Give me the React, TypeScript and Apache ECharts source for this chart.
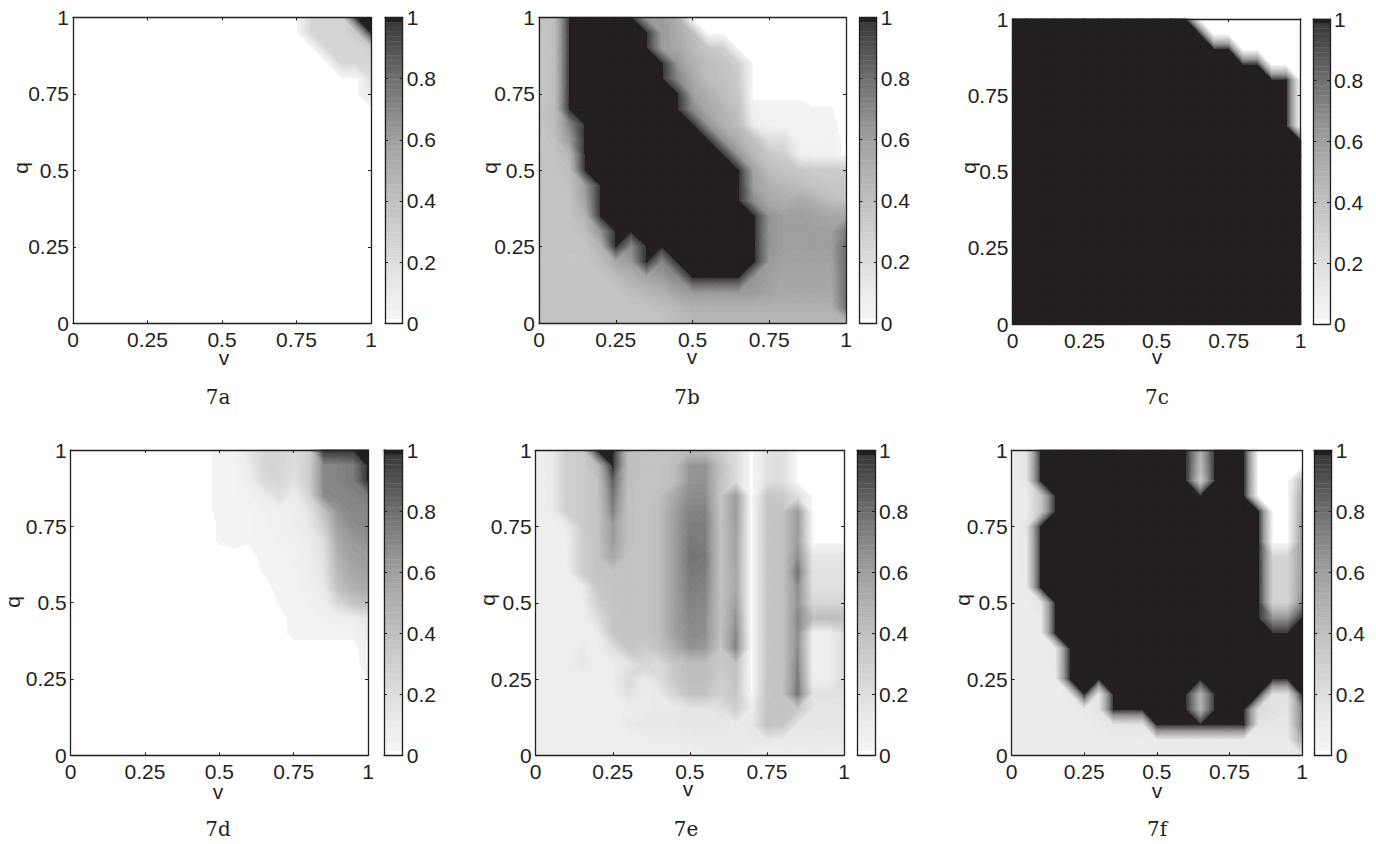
import React, { useEffect, useRef } from "react";
import * as echarts from "echarts";

// Node values on a 21 x 21 lattice. Rows run from q = 1 (first) to q = 0 (last); columns from v = 0 to v = 1.
const gridStep = 0.05;
const captions = ["7a", "7b", "7c", "7d", "7e", "7f"];
const colorLevels = 64;
const grayStops: [number, number][] = [[0.016, 243], [0.1, 236], [0.2, 221], [0.4, 192], [0.6, 160], [0.8, 112], [0.98, 60]];

const padLeft = (r: number[]) => [...Array(21 - r.length).fill(0), ...r];

const panelATails = [
  [0, .25, .25, .25, 1, 1],
  [0, .25, .25, .25, .35, 1],
  [0, 0, .25, .25, .25, .3],
  [0, 0, 0, .25, .25, .25],
  [0, 0, 0, 0, 0, .2],
  [0, 0, 0, 0, 0, .15],
  [0], [0], [0], [0], [0], [0], [0], [0], [0], [0], [0], [0], [0], [0], [0],
];

const panelB = [
  [.38, .4, 1, 1, 1, 1, 1, .62, .62, .5, 0, 0, 0, 0, 0, 0, 0, 0, 0, 0, 0],
  [.38, .4, 1, 1, 1, 1, 1, 1, .62, .55, .42, 0, 0, 0, 0, 0, 0, 0, 0, 0, 0],
  [.38, .4, 1, 1, 1, 1, 1, 1, .62, .55, .45, .35, .3, 0, 0, 0, 0, 0, 0, 0, 0],
  [.38, .4, 1, 1, 1, 1, 1, 1, 1, .65, .5, .42, .38, .3, 0, 0, 0, 0, 0, 0, 0],
  [.38, .4, 1, 1, 1, 1, 1, 1, 1, .72, .55, .42, .4, .33, 0, 0, 0, 0, 0, 0, 0],
  [.38, .4, 1, 1, 1, 1, 1, 1, 1, 1, .6, .5, .42, .35, 0, 0, 0, 0, 0, 0, 0],
  [.38, .42, 1, 1, 1, 1, 1, 1, 1, 1, .7, .55, .48, .38, .04, .04, .04, .04, .02, .02, 0],
  [.38, .42, .72, 1, 1, 1, 1, 1, 1, 1, 1, .65, .5, .42, .1, .04, .04, .04, .03, .03, 0],
  [.38, .4, .62, 1, 1, 1, 1, 1, 1, 1, 1, 1, .65, .5, .4, .2, .2, .04, .04, .05, 0],
  [.38, .38, .48, 1, 1, 1, 1, 1, 1, 1, 1, 1, 1, .65, .45, .35, .3, .08, .06, .05, 0],
  [.38, .38, .42, 1, 1, 1, 1, 1, 1, 1, 1, 1, 1, 1, .58, .42, .38, .35, .33, .33, .32],
  [.38, .38, .4, .62, 1, 1, 1, 1, 1, 1, 1, 1, 1, 1, .6, .5, .45, .42, .38, .35, .35],
  [.38, .38, .38, .58, 1, 1, 1, 1, 1, 1, 1, 1, 1, 1, .68, .55, .52, .55, .5, .42, .4],
  [.38, .38, .38, .48, 1, 1, 1, 1, 1, 1, 1, 1, 1, 1, 1, .65, .6, .6, .58, .55, .55],
  [.38, .38, .38, .42, .65, 1, 1, 1, 1, 1, 1, 1, 1, 1, 1, .65, .6, .6, .6, .6, .75],
  [.38, .38, .38, .38, .48, 1, .7, 1, 1, 1, 1, 1, 1, 1, 1, .65, .6, .6, .6, .6, .8],
  [.37, .37, .37, .37, .42, .55, .62, 1, .7, 1, 1, 1, 1, 1, 1, .62, .58, .58, .58, .58, .8],
  [.37, .37, .37, .37, .37, .42, .5, .58, .62, .7, 1, 1, 1, 1, .65, .6, .55, .55, .55, .55, .8],
  [.37, .37, .37, .37, .37, .37, .42, .46, .5, .58, .62, .62, .62, .62, .62, .58, .55, .55, .55, .55, .8],
  [.38, .38, .38, .38, .38, .38, .38, .38, .42, .45, .5, .5, .5, .5, .5, .5, .5, .5, .5, .5, .78],
  [.38, .38, .38, .38, .38, .38, .38, .38, .38, .42, .45, .45, .45, .45, .45, .45, .45, .45, .45, .45, .45],
];

// Panel c is black (1) up to a given column in each row and white (0) after it.
const panelCBlackCounts = [13, 14, 16, 18, 20, 20, 20, 20, 21, 21, 21, 21, 21, 21, 21, 21, 21, 21, 21, 21, 21];

const panelDTails = [
  [.03, .03, .15, .25, .25, .22, .3, 1, 1, 1, 1],
  [.03, .03, .12, .25, .25, .2, .3, .7, .72, .75, 1],
  [.03, .03, .08, .22, .25, .18, .3, .7, .72, .75, 1],
  [.03, .03, .04, .1, .2, .1, .25, .68, .7, .72, .75],
  [.03, .03, .03, .04, .06, .08, .15, .4, .65, .7, .7],
  [.02, .03, .03, .04, .06, .08, .12, .3, .6, .68, .7],
  [.02, .03, .02, .04, .05, .06, .1, .2, .55, .62, .65],
  [0, 0, 0, .03, .04, .05, .08, .18, .5, .6, .62],
  [0, 0, 0, .02, .03, .04, .07, .16, .45, .55, .6],
  [0, 0, 0, 0, .03, .04, .06, .12, .4, .5, .55],
  [0, 0, 0, 0, .02, .03, .05, .08, .25, .38, .42],
  [0, 0, 0, 0, 0, .03, .04, .05, .08, .1, .15],
  [0, 0, 0, 0, 0, .03, .03, .03, .03, .03, .1],
  [.05], [.04], [.016], [0], [0], [0], [0], [0],
];

const panelE = [
  [.08, .1, .3, .32, 1, 1, .42, .38, .38, .38, .42, .42, .32, .22, 0, .18, .2, 0, 0, 0, 0],
  [.08, .1, .3, .32, .45, 1, .42, .38, .38, .42, .65, .65, .4, .22, 0, .18, .2, 0, 0, 0, 0],
  [.08, .1, .3, .32, .38, .85, .42, .38, .38, .42, .65, .65, .38, .22, 0, .18, .2, 0, 0, 0, 0],
  [.08, .1, .3, .32, .38, .78, .4, .38, .4, .55, .68, .68, .38, .62, 0, .35, .33, .2, 0, 0, 0],
  [.08, .1, .3, .32, .38, .72, .4, .38, .42, .6, .72, .72, .38, .62, 0, .37, .38, .62, 0, 0, 0],
  [.08, .08, .1, .32, .38, .62, .4, .38, .42, .6, .74, .74, .4, .6, 0, .37, .38, .62, 0, 0, 0],
  [.08, .08, .08, .3, .38, .62, .4, .38, .42, .6, .76, .74, .4, .58, 0, .37, .38, .62, 0, 0, 0],
  [.08, .08, .08, .3, .38, .55, .38, .38, .42, .6, .78, .76, .4, .58, 0, .37, .38, .68, .15, .15, .15],
  [.08, .08, .08, .3, .38, .38, .38, .38, .42, .6, .76, .74, .4, .55, 0, .37, .38, .78, .18, .18, .18],
  [.08, .08, .08, .1, .35, .38, .38, .38, .42, .6, .74, .72, .4, .55, 0, .37, .38, .68, .18, .18, .18],
  [.08, .08, .08, .08, .3, .38, .38, .38, .42, .6, .72, .7, .4, .6, 0, .37, .38, .65, .25, .25, .25],
  [.08, .08, .08, .08, .2, .36, .38, .38, .42, .6, .7, .68, .4, .65, 0, .37, .38, .7, .42, .42, .42],
  [.08, .08, .08, .08, .1, .36, .38, .38, .42, .6, .68, .68, .4, .7, 0, .37, .38, .68, .08, .08, .2],
  [.08, .08, .08, .12, .08, .2, .36, .32, .38, .5, .65, .62, .36, .72, 0, .37, .38, .68, .08, .08, .2],
  [.08, .08, .08, .14, .08, .1, .16, .25, .22, .36, .42, .42, .34, .4, 0, .37, .38, .72, .08, .08, .2],
  [.08, .08, .08, .08, .08, .1, .22, .12, .2, .34, .42, .42, .3, .38, 0, .37, .38, .75, .08, .08, .2],
  [.08, .08, .08, .08, .08, .08, .18, .1, .12, .25, .38, .38, .3, .35, .02, .37, .38, .78, .18, .18, .18],
  [.08, .08, .08, .08, .08, .08, .1, .1, .12, .12, .15, .15, .18, .3, .1, .38, .38, .35, .15, .15, .15],
  [.08, .08, .08, .08, .08, .08, .12, .14, .14, .14, .15, .15, .14, .12, .14, .38, .36, .15, .15, .15, .15],
  [.08, .08, .08, .08, .08, .08, .08, .08, .09, .1, .11, .12, .12, .12, .12, .14, .12, .12, .12, .12, .12],
  [.08, .08, .08, .08, .08, .08, .08, .08, .08, .08, .08, .1, .1, .1, .08, .08, .08, .08, .08, .08, .08],
];

const panelF = [
  [.1, .15, 1, 1, 1, 1, 1, 1, 1, 1, 1, 1, 1, .5, 1, 1, 1, 0, 0, 0, 0],
  [.1, .15, 1, 1, 1, 1, 1, 1, 1, 1, 1, 1, 1, .45, 1, 1, 1, 0, 0, 0, 0],
  [.1, .15, 1, 1, 1, 1, 1, 1, 1, 1, 1, 1, 1, .35, 1, 1, 1, 0, 0, 0, .45],
  [.1, .1, .35, 1, 1, 1, 1, 1, 1, 1, 1, 1, 1, 1, 1, 1, 1, 0, 0, 0, .55],
  [.1, .1, .35, 1, 1, 1, 1, 1, 1, 1, 1, 1, 1, 1, 1, 1, 1, 1, 0, 0, .58],
  [.1, .15, 1, 1, 1, 1, 1, 1, 1, 1, 1, 1, 1, 1, 1, 1, 1, 1, 0, 0, .6],
  [.1, .12, 1, 1, 1, 1, 1, 1, 1, 1, 1, 1, 1, 1, 1, 1, 1, 1, 0, 0, .6],
  [.1, .12, 1, 1, 1, 1, 1, 1, 1, 1, 1, 1, 1, 1, 1, 1, 1, 1, .28, .28, .6],
  [.1, .12, 1, 1, 1, 1, 1, 1, 1, 1, 1, 1, 1, 1, 1, 1, 1, 1, .28, .28, .6],
  [.1, .1, 1, 1, 1, 1, 1, 1, 1, 1, 1, 1, 1, 1, 1, 1, 1, 1, .28, .28, .62],
  [.1, .1, .15, 1, 1, 1, 1, 1, 1, 1, 1, 1, 1, 1, 1, 1, 1, 1, .28, .28, .7],
  [.1, .1, .1, 1, 1, 1, 1, 1, 1, 1, 1, 1, 1, 1, 1, 1, 1, 1, .65, .65, 1],
  [.1, .1, .1, 1, 1, 1, 1, 1, 1, 1, 1, 1, 1, 1, 1, 1, 1, 1, 1, 1, 1],
  [.1, .1, .1, .12, 1, 1, 1, 1, 1, 1, 1, 1, 1, 1, 1, 1, 1, 1, 1, 1, 1],
  [.1, .1, .1, .12, 1, 1, 1, 1, 1, 1, 1, 1, 1, 1, 1, 1, 1, 1, 1, 1, 1],
  [.1, .1, .1, .1, 1, 1, 1, 1, 1, 1, 1, 1, 1, 1, 1, 1, 1, 1, 1, 1, 1],
  [.1, .1, .1, .1, .12, 1, .15, 1, 1, 1, 1, 1, 1, .5, 1, 1, 1, 1, .18, .18, 1],
  [.1, .1, .1, .1, .1, .12, .15, 1, 1, 1, 1, 1, 1, .5, 1, 1, 1, .22, .18, .16, .72],
  [.1, .1, .1, .1, .1, .1, .12, .15, .15, .15, 1, 1, 1, 1, 1, 1, 1, .16, .15, .15, .72],
  [.1, .1, .1, .1, .1, .1, .1, .1, .1, .1, .12, .12, .12, .12, .12, .12, .12, .12, .12, .12, .55],
  [.1, .1, .1, .1, .1, .1, .1, .1, .1, .1, .1, .1, .1, .1, .1, .1, .1, .12, .12, .12, .15],
];

const panelA = panelATails.map(padLeft);
const panelC = panelCBlackCounts.map((n) => Array.from({ length: 21 }, (_, i) => (i < n ? 1 : 0)));
const panelD = panelDTails.map(padLeft);
const panels = [panelA, panelB, panelC, panelD, panelE, panelF];

// Layout, in page pixels.
const layouts = [
  { l: 73, r: 371, t: 17.5, b: 323.3, cl: 385, cr: 402.7, v: [224, 357], q: [20, 168], cap: [218, 397] },
  { l: 539, r: 846, t: 17.5, b: 323, cl: 859.5, cr: 876.7, v: [692, 356], q: [489, 168], cap: [687, 397] },
  { l: 1012.5, r: 1300.7, t: 19, b: 324, cl: 1313.3, cr: 1330, v: [1157, 356], q: [968, 168], cap: [1157, 397] },
  { l: 70.7, r: 368, t: 450, b: 755.3, cl: 384, cr: 402.7, v: [218, 791], q: [12, 602], cap: [218, 829] },
  { l: 535.7, r: 844, t: 450.3, b: 755.3, cl: 857.3, cr: 875, v: [688, 788], q: [487, 600], cap: [686, 829] },
  { l: 1011.7, r: 1302, t: 450.3, b: 755.3, cl: 1314.3, cr: 1331.7, v: [1157, 790], q: [962, 600], cap: [1157, 829] },
];

const ink = "#231f20";
const axisInk = ink;
const sans = "Liberation Sans";
const labelSize = 21;

const levelOf = (z: number) => Math.min(colorLevels - 1, Math.max(0, Math.floor(z * colorLevels)));
const levelColor = (l: number) => {
  if (l === 0) return "#ffffff";
  if (l === colorLevels - 1) return ink;
  const z = l / (colorLevels - 1);
  let g = grayStops[grayStops.length - 1][1];
  for (let i = 0; i < grayStops.length - 1; i++) {
    const [a, ga] = grayStops[i];
    const [b, gb] = grayStops[i + 1];
    if (z <= a) { g = ga; break; }
    if (z <= b) { g = ga + ((gb - ga) * (z - a)) / (b - a); break; }
  }
  const h = Math.round(g).toString(16).padStart(2, "0");
  return `#${h}${h}${h}`;
};

// A triangle with values at its corners is a linear ramp, so it is painted with a linear gradient across the colour bands.
function trianglePaint(p: number[][], z: number[]) {
  const order = [0, 1, 2].sort((a, b) => z[a] - z[b]);
  const [i0, i1, i2] = order;
  const lo = z[i0], hi = z[i2];
  const lLo = levelOf(lo), lHi = levelOf(hi);
  if (lLo === lHi) return levelColor(lLo);
  const ax = p[i1][0] - p[i0][0], ay = p[i1][1] - p[i0][1];
  const bx = p[i2][0] - p[i0][0], by = p[i2][1] - p[i0][1];
  const d1 = z[i1] - lo, d2 = hi - lo;
  const det = ax * by - ay * bx;
  const gx = (d1 * by - d2 * ay) / det;
  const gy = (ax * d2 - bx * d1) / det;
  const k = d2 / (gx * gx + gy * gy);
  const colorStops: { offset: number; color: string }[] = [];
  for (let l = lLo; l <= lHi; l++) {
    const c = levelColor(l);
    const s = Math.max(0, (l / colorLevels - lo) / d2);
    const e = l === lHi ? 1 : Math.min(1, ((l + 1) / colorLevels - lo) / d2);
    colorStops.push({ offset: s, color: c }, { offset: e, color: c });
  }
  return {
    type: "linear", global: true,
    x: p[i0][0], y: p[i0][1], x2: p[i0][0] + gx * k, y2: p[i0][1] + gy * k,
    colorStops,
  };
}

const isFlat = (c: number[]) => levelOf(Math.min(c[4], c[5], c[6], c[7])) === levelOf(Math.max(c[4], c[5], c[6], c[7]));

// Flat cells come first, so that the shaded cells lie over their slightly enlarged edges.
function cellsOf(rows: number[][]) {
  const out: number[][] = [];
  for (let r = 0; r < rows.length - 1; r++) {
    for (let c = 0; c < 20; c++) {
      const tl = rows[r][c], tr = rows[r][c + 1], bl = rows[r + 1][c], br = rows[r + 1][c + 1];
      const q1 = (20 - r) * gridStep, q0 = (19 - r) * gridStep;
      out.push([c * gridStep, q0, (c + 1) * gridStep, q1, bl, br, tl, tr]);
    }
  }
  return [...out.filter(isFlat), ...out.filter((c) => !isFlat(c))];
}

function renderCell(_: any, api: any) {
  const v = (i: number) => api.value(i) as number;
  const [z00, z10, z01, z11] = [v(4), v(5), v(6), v(7)];
  if (Math.max(z00, z10, z01, z11) < 1 / colorLevels) return null;
  const p00 = api.coord([v(0), v(1)]), p10 = api.coord([v(2), v(1)]);
  const p01 = api.coord([v(0), v(3)]), p11 = api.coord([v(2), v(3)]);
  if (levelOf(Math.min(z00, z10, z01, z11)) === levelOf(Math.max(z00, z10, z01, z11))) {
    const pad = 0.6;
    return {
      type: "rect",
      shape: { x: p00[0] - pad, y: p01[1] - pad, width: p10[0] - p00[0] + 2 * pad, height: p00[1] - p01[1] + 2 * pad },
      style: { fill: levelColor(levelOf(z00)) },
    };
  }
  // split along the diagonal whose two ends are closest in value
  const tris: [number[][], number[]][] =
    Math.abs(z00 - z11) <= Math.abs(z10 - z01)
      ? [[[p00, p10, p11], [z00, z10, z11]], [[p00, p11, p01], [z00, z11, z01]]]
      : [[[p00, p10, p01], [z00, z10, z01]], [[p10, p11, p01], [z10, z11, z01]]];
  return {
    type: "group",
    children: tris.map(([pts, zs]) => {
      const paint = trianglePaint(pts, zs);
      return { type: "polygon", shape: { points: pts }, style: { fill: paint, stroke: paint, lineWidth: 1 } };
    }),
  };
}

function renderBand(_: any, api: any) {
  const a = api.coord([0, api.value(0)]), b = api.coord([1, api.value(1)]);
  const color = levelColor(api.value(2));
  return {
    type: "rect",
    shape: { x: a[0], y: b[1], width: b[0] - a[0], height: a[1] - b[1] },
    style: { fill: color, stroke: color, lineWidth: 0.4 },
  };
}

const bands = Array.from({ length: colorLevels }, (_, l) => [l / colorLevels, (l + 1) / colorLevels, l]);

function buildOption() {
  const grid: any[] = [], xAxis: any[] = [], yAxis: any[] = [], series: any[] = [], graphic: any[] = [];
  const line = { show: true, onZero: false, lineStyle: { color: axisInk, width: 1.3 } };
  const tick = { show: true, inside: true, length: 3, lineStyle: { color: axisInk, width: 1 } };
  const none = { show: false };
  const label = { show: true, color: ink, fontFamily: sans, fontSize: labelSize };
  const axisBase = { type: "value", min: 0, max: 1, splitLine: none, axisLine: line, z: 10 };

  panels.forEach((rows, idx) => {
    const L = layouts[idx];
    const g = grid.length;
    grid.push({ left: L.l, top: L.t, width: L.r - L.l, height: L.b - L.t });
    grid.push({ left: L.cl, top: L.t, width: L.cr - L.cl, height: L.b - L.t });
    const fmt = (x: number) => String(x);
    const x0 = xAxis.length, y0 = yAxis.length;
    // main plot: the labelled axes, then the top and right box sides
    xAxis.push({ ...axisBase, gridIndex: g, position: "bottom", interval: 0.25, axisTick: tick, axisLabel: { ...label, margin: 6, formatter: fmt } });
    xAxis.push({ ...axisBase, gridIndex: g, position: "top", interval: 0.25, axisTick: tick, axisLabel: none });
    yAxis.push({ ...axisBase, gridIndex: g, position: "left", interval: 0.25, axisTick: tick, axisLabel: { ...label, margin: 4, padding: [4, 0, 0, 0], formatter: fmt } });
    yAxis.push({ ...axisBase, gridIndex: g, position: "right", interval: 0.25, axisTick: tick, axisLabel: none });
    // colour bar
    xAxis.push({ ...axisBase, gridIndex: g + 1, position: "bottom", axisTick: none, axisLabel: none });
    xAxis.push({ ...axisBase, gridIndex: g + 1, position: "top", axisTick: none, axisLabel: none });
    yAxis.push({ ...axisBase, gridIndex: g + 1, position: "left", interval: 0.2, axisTick: tick, axisLabel: none });
    yAxis.push({ ...axisBase, gridIndex: g + 1, position: "right", interval: 0.2, axisTick: tick, axisLabel: { ...label, margin: 4, padding: [4, 0, 0, 0], formatter: fmt } });

    series.push({
      type: "custom", silent: true, xAxisIndex: x0, yAxisIndex: y0,
      renderItem: renderCell, data: cellsOf(rows),
      encode: { x: [0, 2], y: [1, 3] }, dimensions: ["v0", "q0", "v1", "q1", "a", "b", "c", "d"],
    });
    series.push({
      type: "custom", silent: true, xAxisIndex: x0 + 2, yAxisIndex: y0 + 2,
      renderItem: renderBand, data: bands, encode: { y: [0, 1] },
    });

    const txt = (text: string, pos: number[], extra: any = {}) => ({
      type: "text", x: pos[0], y: pos[1], silent: true, ...extra,
      style: { text, fill: ink, font: `${labelSize}px "${sans}"`, textAlign: "center", textVerticalAlign: "middle", align: "center", verticalAlign: "middle", ...(extra.style || {}) },
    });
    graphic.push(txt("v", L.v));
    graphic.push(txt("q", L.q, { rotation: Math.PI / 2 }));
    graphic.push(txt(captions[idx], L.cap, { style: { font: '20px "DejaVu Serif"' } }));
  });
  return { animation: false, backgroundColor: "#ffffff", grid, xAxis, yAxis, series, graphic };
}

export default function App() {
  const ref = useRef<HTMLDivElement>(null);
  useEffect(() => {
    const chart = echarts.init(ref.current!, undefined, { renderer: "svg" });
    chart.setOption(buildOption() as any);
    return () => chart.dispose();
  }, []);
  return <div ref={ref} style={{ position: "fixed", left: 0, top: 0, width: 1376, height: 844 }} />;
}
